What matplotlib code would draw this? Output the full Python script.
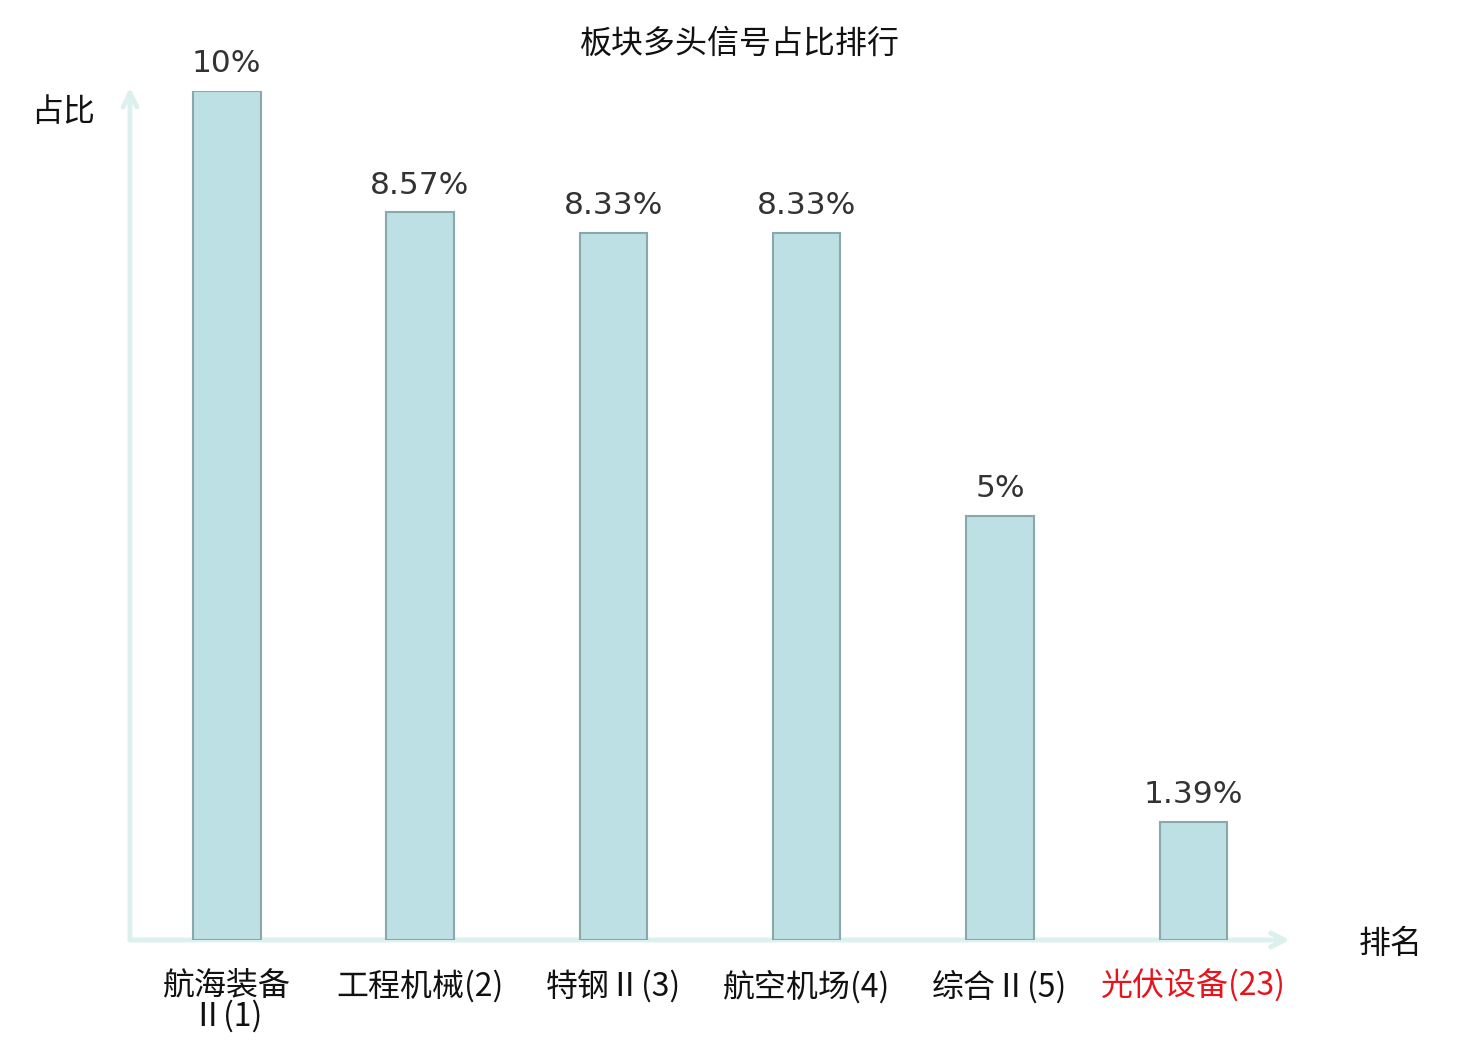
import matplotlib
matplotlib.use("Agg")
import matplotlib.pyplot as plt

plt.rcParams['font.family'] = ['Noto Sans CJK SC', 'DejaVu Sans']

categories = ["航海装备\nⅡ(1)", "工程机械(2)", "特钢Ⅱ(3)", "航空机场(4)", "综合Ⅱ(5)", "光伏设备(23)"]
values = [10, 8.57, 8.33, 8.33, 5, 1.39]
value_labels = ["10%", "8.57%", "8.33%", "8.33%", "5%", "1.39%"]
label_colors = ["#111111", "#111111", "#111111", "#111111", "#111111", "#e8141c"]
title = "板块多头信号占比排行"
ylabel = "占比"
xlabel = "排名"

fig = plt.figure(figsize=(14.8, 10.4), dpi=100)
ax = fig.add_axes([130/1480, 100/1040, 1160/1480, 849/1040])
x = list(range(len(values)))
ax.bar(x, values, width=0.35, color="#bce0e3", edgecolor="#8aa7a9", linewidth=1.5, zorder=3)
ax.set_xlim(-0.5, len(values) - 0.5)
ax.set_ylim(0, 10)

for s in ax.spines.values():
    s.set_visible(False)
ax.set_yticks([])
ax.set_xticks(x)
ax.set_xticklabels(categories, fontsize=23, linespacing=0.92)
for lbl, c in zip(ax.get_xticklabels(), label_colors):
    lbl.set_color(c)
ax.tick_params(axis='x', length=0, pad=21.5)

for xi, v, t in zip(x, values, value_labels):
    ax.annotate(t, (xi, v), xytext=(0, 9), textcoords="offset points",
                ha="center", va="bottom", fontsize=22.5, color="#333333",
                family=["DejaVu Sans"])

axis_color = "#dcf1ee"
ax.annotate("", xy=(1.0, 0), xycoords="axes fraction", xytext=(0, 0),
            arrowprops=dict(arrowstyle="->,head_length=1.0,head_width=0.5", color=axis_color, lw=3.5,
                            shrinkA=0, shrinkB=0),
            annotation_clip=False, zorder=2)
ax.annotate("", xy=(0, 1.004), xycoords="axes fraction", xytext=(0, 0),
            arrowprops=dict(arrowstyle="->,head_length=1.0,head_width=0.5", color=axis_color, lw=3.5,
                            shrinkA=0, shrinkB=0),
            annotation_clip=False, zorder=2)

fig.text(740/1480, 1 - 44/1040, title, ha="center", va="center", fontsize=23, color="#111111")
fig.text(63/1480, 1 - 112/1040, ylabel, ha="center", va="center", fontsize=23, color="#111111")
fig.text(1391/1480, 1 - 944/1040, xlabel, ha="center", va="center", fontsize=23, color="#111111")

fig.savefig("out.png", dpi=100, facecolor="white")
